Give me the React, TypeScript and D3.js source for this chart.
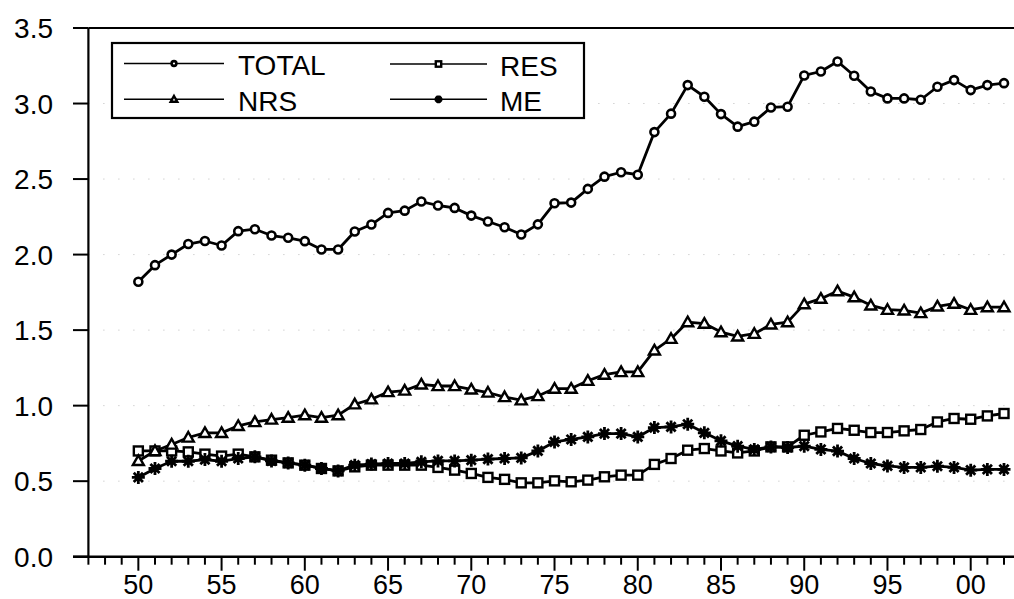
import React from 'react';
import * as d3 from 'd3';

const years = d3.range(1950, 2003);

const total = [
  1.82, 1.93, 2.0, 2.07, 2.09, 2.06, 2.155, 2.168, 2.126, 2.111,
  2.089, 2.034, 2.034, 2.153, 2.199, 2.276, 2.291, 2.351, 2.325, 2.309,
  2.258, 2.219, 2.181, 2.133, 2.2, 2.34, 2.344, 2.435, 2.516, 2.545,
  2.529, 2.811, 2.933, 3.122, 3.045, 2.93, 2.847, 2.88, 2.974, 2.979,
  3.186, 3.212, 3.278, 3.184, 3.08, 3.034, 3.034, 3.025, 3.111, 3.155,
  3.089, 3.122, 3.135,
];

const res = [
  0.7, 0.7, 0.7, 0.694, 0.679, 0.666, 0.679, 0.661, 0.639, 0.621,
  0.606, 0.584, 0.568, 0.595, 0.606, 0.606, 0.606, 0.606, 0.591, 0.573,
  0.551, 0.525, 0.512, 0.489, 0.489, 0.502, 0.496, 0.507, 0.529, 0.54,
  0.54, 0.611, 0.65, 0.705, 0.716, 0.7, 0.687, 0.7, 0.727, 0.727,
  0.804, 0.826, 0.849, 0.837, 0.822, 0.822, 0.833, 0.842, 0.892, 0.915,
  0.91, 0.932, 0.948,
];

const nrs = [
  0.634, 0.7, 0.743, 0.789, 0.82, 0.82, 0.866, 0.892, 0.908, 0.921,
  0.937, 0.921, 0.937, 1.009, 1.042, 1.09, 1.1, 1.141, 1.13, 1.13,
  1.108, 1.087, 1.057, 1.036, 1.064, 1.113, 1.113, 1.165, 1.205, 1.223,
  1.223, 1.366, 1.443, 1.553, 1.543, 1.487, 1.459, 1.476, 1.538, 1.553,
  1.672, 1.708, 1.758, 1.718, 1.664, 1.635, 1.631, 1.613, 1.657, 1.675,
  1.635, 1.652, 1.652,
];

const me = [
  0.525, 0.584, 0.632, 0.632, 0.643, 0.632, 0.65, 0.661, 0.634, 0.621,
  0.606, 0.584, 0.568, 0.606, 0.613, 0.617, 0.617, 0.628, 0.634, 0.634,
  0.639, 0.646, 0.65, 0.654, 0.7, 0.76, 0.776, 0.793, 0.815, 0.815,
  0.793, 0.855, 0.859, 0.877, 0.82, 0.767, 0.732, 0.71, 0.727, 0.723,
  0.732, 0.71, 0.699, 0.65, 0.617, 0.601, 0.591, 0.591, 0.599, 0.591,
  0.573, 0.578, 0.578,
];

const yTicks = [0, 0.5, 1, 1.5, 2, 2.5, 3, 3.5];
const xMajor = [1950, 1955, 1960, 1965, 1970, 1975, 1980, 1985, 1990, 1995, 2000];
const xMajorLabels = ['50', '55', '60', '65', '70', '75', '80', '85', '90', '95', '00'];

const FONT = 'Arial, "Liberation Sans", sans-serif';

type Shape = 'circle' | 'square' | 'triangle' | 'star';

function Marker({ shape, x, y, s = 1 }: { shape: Shape; x: number; y: number; s?: number }) {
  if (shape === 'circle') {
    return <circle cx={x} cy={y} r={4 * s} fill="#fff" stroke="#000" strokeWidth={2.6} />;
  }
  if (shape === 'square') {
    const h = 4.5 * s;
    return <rect x={x - h} y={y - h} width={2 * h} height={2 * h} fill="#fff" stroke="#000" strokeWidth={2.4} />;
  }
  if (shape === 'triangle') {
    const h = 5.5 * s;
    return (
      <path
        d={`M${x},${y - h}L${x + h},${y + h * 0.75}L${x - h},${y + h * 0.75}Z`}
        fill="#fff" stroke="#000" strokeWidth={2.4}
      />
    );
  }
  const r = 6.5 * s;
  const spokes = [0, 45, 90, 135].map(a => {
    const t = (a * Math.PI) / 180;
    return `M${x - r * Math.cos(t)},${y - r * Math.sin(t)}L${x + r * Math.cos(t)},${y + r * Math.sin(t)}`;
  });
  return <path d={spokes.join('')} stroke="#000" strokeWidth={2.8} fill="none" />;
}

const series: { name: string; values: number[]; shape: Shape }[] = [
  { name: 'TOTAL', values: total, shape: 'circle' },
  { name: 'RES', values: res, shape: 'square' },
  { name: 'NRS', values: nrs, shape: 'triangle' },
  { name: 'ME', values: me, shape: 'star' },
];

export default function App() {
  const width = 1014, height = 599;
  const x = d3.scaleLinear().domain([1947, 2002]).range([88.4, 1004]);
  const y = d3.scaleLinear().domain([0, 3.5]).range([556.7, 28]);
  const left = x(1947);
  const bottom = y(0);

  const line = d3.line<number>()
    .x((_, i) => x(years[i]))
    .y(d => y(d));

  const minor = d3.range(1947, 2004);

  // legend layout
  const legend = [
    { name: 'TOTAL', shape: 'circle' as Shape, x1: 124, x2: 224, tx: 238, ly: 63.5 },
    { name: 'NRS', shape: 'triangle' as Shape, x1: 124, x2: 224, tx: 238, ly: 99.3 },
    { name: 'RES', shape: 'square' as Shape, x1: 390, x2: 487, tx: 500, ly: 64 },
    { name: 'ME', shape: 'star' as Shape, x1: 390, x2: 487, tx: 500, ly: 99.3 },
  ];

  return (
    <svg width={width} height={height} style={{ position: 'absolute', left: 0, top: 0, background: '#fff' }}>
      {/* faint dotted grid */}
      {yTicks.slice(1, -1).map(t => (
        <line key={'g' + t} x1={left} x2={width} y1={y(t)} y2={y(t)}
          stroke="#bbb" strokeWidth={1} strokeDasharray="1,14" />
      ))}

      {/* frame */}
      <line x1={left} x2={left} y1={y(3.5)} y2={bottom} stroke="#000" strokeWidth={2.2} />
      <line x1={73} x2={width} y1={bottom} y2={bottom} stroke="#000" strokeWidth={2.4} />
      <line x1={left} x2={width} y1={y(3.5)} y2={y(3.5)} stroke="#000" strokeWidth={2.2} />

      {yTicks.map(t => (
        <g key={'y' + t}>
          <line x1={73} x2={left} y1={y(t)} y2={y(t)} stroke="#000" strokeWidth={2} />
          <text x={53} y={y(t) + 10} textAnchor="end" fontFamily={FONT} fontSize={28} fill="#000">
            {t.toFixed(1)}
          </text>
        </g>
      ))}

      {minor.map(v => (
        <line key={'m' + v} x1={x(v)} x2={x(v)} y1={bottom}
          y2={bottom + (xMajor.includes(v) ? 14 : 8)} stroke="#000" strokeWidth={2} />
      ))}
      {xMajor.map((v, i) => (
        <text key={'xl' + v} x={x(v)} y={593.5} textAnchor="middle" fontFamily={FONT} fontSize={27} fill="#000">
          {xMajorLabels[i]}
        </text>
      ))}

      {/* series */}
      {series.map(s => (
        <g key={s.name}>
          <path d={line(s.values) || ''} fill="none" stroke="#000" strokeWidth={2.8} strokeLinejoin="round" />
          {s.values.map((v, i) => (
            <Marker key={i} shape={s.shape} x={x(years[i])} y={y(v)} />
          ))}
        </g>
      ))}

      {/* legend */}
      <rect x={112} y={43} width={472} height={75} fill="#fff" stroke="#000" strokeWidth={2.2} />
      {legend.map(l => (
        <g key={'lg' + l.name}>
          <line x1={l.x1} x2={l.x2} y1={l.ly} y2={l.ly} stroke="#000" strokeWidth={1.6} />
          <Marker shape={l.shape} x={(l.x1 + l.x2) / 2} y={l.ly} s={0.6} />
          <text x={l.tx} y={l.ly + 11.5} fontFamily={FONT} fontSize={28} fill="#000">{l.name}</text>
        </g>
      ))}
    </svg>
  );
}
